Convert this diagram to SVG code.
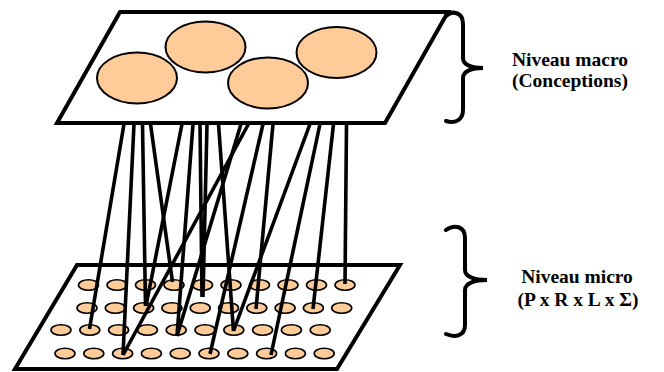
<svg xmlns="http://www.w3.org/2000/svg" width="664" height="372" viewBox="0 0 664 372">
<style>
.plate{fill:#fff;stroke:#000;stroke-width:4;stroke-linejoin:miter}
.big{fill:#FFCC99;stroke:#000;stroke-width:2}
.dot{fill:#FFCC99;stroke:#000;stroke-width:1.6}
.link{stroke:#000;stroke-width:3.6;fill:none;stroke-linecap:butt}
.brace{fill:none;stroke:#000;stroke-width:4;stroke-linecap:round}
.lbl{font-family:"Liberation Serif","Times New Roman",serif;font-weight:bold;font-size:19.5px;fill:#000;text-anchor:middle}
</style>
<rect width="664" height="372" fill="#fff"/>
<g id="macro-plate">
<polygon class="plate" points="120,12 448,12 385,123 57,123"/>
<ellipse class="big" cx="137" cy="78" rx="40" ry="25.5"/>
<ellipse class="big" cx="205.5" cy="47" rx="40" ry="25.5"/>
<ellipse class="big" cx="268" cy="83" rx="40" ry="25.5"/>
<ellipse class="big" cx="336.5" cy="52.5" rx="40" ry="25.5"/>
</g>
<g id="micro-plate">
<polygon class="plate" points="77,265 400,265 337,369 15,369"/>
<g id="row1">
<ellipse class="dot" cx="88.5" cy="285" rx="10" ry="5.2"/>
<ellipse class="dot" cx="117" cy="285" rx="10" ry="5.2"/>
<ellipse class="dot" cx="145.5" cy="285" rx="10" ry="5.2"/>
<ellipse class="dot" cx="174" cy="285" rx="10" ry="5.2"/>
<ellipse class="dot" cx="202.5" cy="285" rx="10" ry="5.2"/>
<ellipse class="dot" cx="231" cy="285" rx="10" ry="5.2"/>
<ellipse class="dot" cx="259.5" cy="285" rx="10" ry="5.2"/>
<ellipse class="dot" cx="288" cy="285" rx="10" ry="5.2"/>
<ellipse class="dot" cx="316.5" cy="285" rx="10" ry="5.2"/>
<ellipse class="dot" cx="345" cy="285" rx="10" ry="5.2"/>
</g>
<g id="row2">
<ellipse class="dot" cx="87" cy="308" rx="10" ry="5.2"/>
<ellipse class="dot" cx="115.3" cy="308" rx="10" ry="5.2"/>
<ellipse class="dot" cx="143.6" cy="308" rx="10" ry="5.2"/>
<ellipse class="dot" cx="171.9" cy="308" rx="10" ry="5.2"/>
<ellipse class="dot" cx="200.2" cy="308" rx="10" ry="5.2"/>
<ellipse class="dot" cx="228.5" cy="308" rx="10" ry="5.2"/>
<ellipse class="dot" cx="256.8" cy="308" rx="10" ry="5.2"/>
<ellipse class="dot" cx="285.1" cy="308" rx="10" ry="5.2"/>
<ellipse class="dot" cx="313.4" cy="308" rx="10" ry="5.2"/>
<ellipse class="dot" cx="341.7" cy="308" rx="10" ry="5.2"/>
</g>
<g id="row3">
<ellipse class="dot" cx="61" cy="330" rx="10" ry="5.2"/>
<ellipse class="dot" cx="89.8" cy="330" rx="10" ry="5.2"/>
<ellipse class="dot" cx="118.6" cy="330" rx="10" ry="5.2"/>
<ellipse class="dot" cx="147.4" cy="330" rx="10" ry="5.2"/>
<ellipse class="dot" cx="176.2" cy="330" rx="10" ry="5.2"/>
<ellipse class="dot" cx="205" cy="330" rx="10" ry="5.2"/>
<ellipse class="dot" cx="233.8" cy="330" rx="10" ry="5.2"/>
<ellipse class="dot" cx="262.6" cy="330" rx="10" ry="5.2"/>
<ellipse class="dot" cx="291.4" cy="330" rx="10" ry="5.2"/>
<ellipse class="dot" cx="320.2" cy="330" rx="10" ry="5.2"/>
</g>
<g id="row4">
<ellipse class="dot" cx="65" cy="353.5" rx="10" ry="5.2"/>
<ellipse class="dot" cx="93.8" cy="353.5" rx="10" ry="5.2"/>
<ellipse class="dot" cx="122.6" cy="353.5" rx="10" ry="5.2"/>
<ellipse class="dot" cx="151.4" cy="353.5" rx="10" ry="5.2"/>
<ellipse class="dot" cx="180.2" cy="353.5" rx="10" ry="5.2"/>
<ellipse class="dot" cx="209" cy="353.5" rx="10" ry="5.2"/>
<ellipse class="dot" cx="237.8" cy="353.5" rx="10" ry="5.2"/>
<ellipse class="dot" cx="266.6" cy="353.5" rx="10" ry="5.2"/>
<ellipse class="dot" cx="295.4" cy="353.5" rx="10" ry="5.2"/>
<ellipse class="dot" cx="324.2" cy="353.5" rx="10" ry="5.2"/>
</g>
</g>
<g id="connectors">
<line class="link" x1="124" y1="124" x2="89.5" y2="329"/>
<line class="link" x1="134" y1="124" x2="123" y2="355"/>
<line class="link" x1="142.5" y1="124" x2="145.5" y2="306"/>
<line class="link" x1="150.5" y1="124" x2="172.5" y2="282"/>
<line class="link" x1="182" y1="124" x2="146" y2="306"/>
<line class="link" x1="193" y1="124" x2="177" y2="336"/>
<line class="link" x1="200" y1="124" x2="202" y2="297"/>
<line class="link" x1="207" y1="124" x2="203" y2="297"/>
<line class="link" x1="218.5" y1="124" x2="233.5" y2="331"/>
<line class="link" x1="241" y1="124" x2="177" y2="336"/>
<line class="link" x1="248.5" y1="124" x2="123" y2="355"/>
<line class="link" x1="263" y1="124" x2="210" y2="354"/>
<line class="link" x1="273" y1="124" x2="256" y2="309"/>
<line class="link" x1="310" y1="124" x2="233.5" y2="331"/>
<line class="link" x1="320" y1="124" x2="271" y2="355"/>
<line class="link" x1="333.5" y1="124" x2="313" y2="309"/>
<line class="link" x1="346.5" y1="124" x2="345" y2="284"/>
</g>
<g id="brace-macro">
<path class="brace" d="M446,16 C452,10 463,12 463,24 L463,58 C463,65 472,68 483,68 C472,68 463,71 463,78 L463,110 C463,120 455,124 446,121"/>
</g>
<g id="brace-micro">
<path class="brace" d="M446,230 C454,224 465,226 465,238 L465,270 C465,277 475,280 487,280 C475,280 465,283 465,290 L465,325 C465,336 455,338 446,334"/>
</g>
<g id="label-macro">
<text class="lbl" x="570" y="65.5">Niveau macro</text>
<text class="lbl" x="570" y="87.3">(Conceptions)</text>
</g>
<g id="label-micro">
<text class="lbl" x="577" y="283">Niveau micro</text>
<text class="lbl" x="578" y="306">(P x R x L x Σ)</text>
</g>
</svg>
